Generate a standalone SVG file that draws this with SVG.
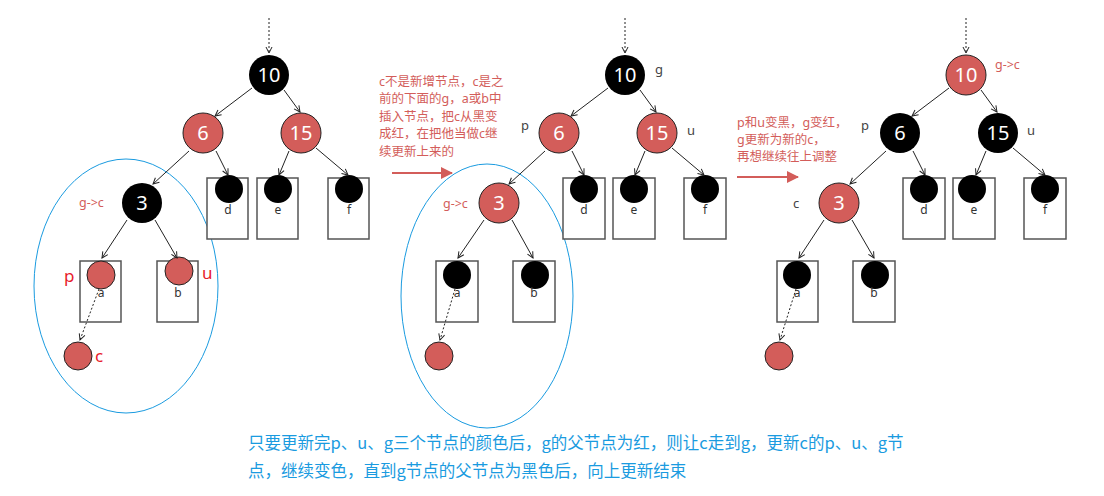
<svg xmlns="http://www.w3.org/2000/svg" width="1104" height="496" viewBox="0 0 1104 496">
<style>
.r{fill:#d35d5a;stroke:#222;stroke-width:1}
.k{fill:#000}
.n{font-family:"Noto Sans","DejaVu Sans",sans-serif;font-size:20px;fill:#fff;text-anchor:middle}
.bx{fill:#fff;stroke:#555;stroke-width:1.5}
.lt{font-family:"Noto Sans","DejaVu Sans",sans-serif;font-size:12px;fill:#333;text-anchor:middle}
.e{stroke:#222;stroke-width:1;fill:none;marker-end:url(#a)}
.d{stroke:#222;stroke-width:1;fill:none;stroke-dasharray:2 2;marker-end:url(#a)}
.cn{font-family:"Noto Sans","Noto Sans CJK SC",sans-serif;font-size:12.5px;fill:#d35d5a}
.el{fill:none;stroke:#1a9be0;stroke-width:1}
.sm{font-family:"Noto Sans",sans-serif;font-size:13px;fill:#444}
</style>
<defs>
<marker id="a" markerWidth="8" markerHeight="8" refX="7" refY="4" orient="auto" markerUnits="userSpaceOnUse"><path d="M1,1 L7,4 L1,7" fill="none" stroke="#222" stroke-width="1"/></marker>
<marker id="ra" markerWidth="12" markerHeight="12" refX="11" refY="6" orient="auto" markerUnits="userSpaceOnUse"><path d="M0,0 L12,6 L0,12Z" fill="#d35d5a"/></marker>
</defs>
<g id="panel1">
<ellipse class="el" cx="126" cy="286" rx="92" ry="127"/>
<g id="p1-10"><circle class="k" cx="269" cy="75" r="20"/><text class="n" x="269" y="82">10</text></g>
<g id="p1-6"><circle class="r" cx="203" cy="133" r="20"/><text class="n" x="203" y="140">6</text></g>
<g id="p1-15"><circle class="r" cx="301" cy="133" r="20"/><text class="n" x="301" y="140">15</text></g>
<g id="p1-3"><circle class="k" cx="142" cy="203" r="20"/><text class="n" x="142" y="210">3</text></g>
<g id="p1-d"><rect class="bx" x="207" y="178" width="41" height="61"/><circle class="k" cx="229" cy="189" r="14"/><text class="lt" x="228" y="214">d</text></g>
<g id="p1-e"><rect class="bx" x="257" y="178" width="41" height="61"/><circle class="k" cx="278" cy="189" r="14"/><text class="lt" x="278" y="214">e</text></g>
<g id="p1-f"><rect class="bx" x="328" y="178" width="41" height="61"/><circle class="k" cx="349" cy="189" r="14"/><text class="lt" x="349" y="214">f</text></g>
<g id="p1-a"><rect class="bx" x="80" y="261" width="41" height="61"/><circle class="r" cx="101" cy="275" r="14"/><text class="lt" x="101" y="297">a</text></g>
<g id="p1-b"><rect class="bx" x="157" y="261" width="41" height="61"/><circle class="r" cx="179" cy="271" r="14"/><text class="lt" x="178" y="297">b</text></g>
<g id="p1-c"><circle class="r" cx="78" cy="356" r="14"/></g>
<text class="cn" x="79" y="207" font-size="11">g-&gt;c</text>
<text x="64" y="282" font-family="Noto Sans,sans-serif" font-size="17" fill="#e8202a">p</text>
<text x="202" y="279" font-family="Noto Sans,sans-serif" font-size="17" fill="#e8202a">u</text>
<text x="95" y="362" font-family="Noto Sans,sans-serif" font-size="17" fill="#e8202a">c</text>
</g>
<g id="note1" class="cn">
<text x="379" y="86">c不是新增节点，c是之</text>
<text x="379" y="103">前的下面的g，a或b中</text>
<text x="379" y="121">插入节点，把c从黑变</text>
<text x="379" y="138">成红，在把他当做c继</text>
<text x="379" y="156">续更新上来的</text>
</g>
<g id="panel2">
<ellipse class="el" cx="487" cy="296" rx="86" ry="132"/>
<g id="p2-10"><circle class="k" cx="625" cy="75" r="20"/><text class="n" x="625" y="82">10</text></g>
<g id="p2-6"><circle class="r" cx="559" cy="133" r="20"/><text class="n" x="559" y="140">6</text></g>
<g id="p2-15"><circle class="r" cx="657" cy="133" r="20"/><text class="n" x="657" y="140">15</text></g>
<g id="p2-3"><circle class="r" cx="499" cy="203" r="20"/><text class="n" x="499" y="210">3</text></g>
<g id="p2-d"><rect class="bx" x="563" y="178" width="42" height="61"/><circle class="k" cx="584" cy="189" r="14"/><text class="lt" x="584" y="214">d</text></g>
<g id="p2-e"><rect class="bx" x="613" y="178" width="42" height="61"/><circle class="k" cx="634" cy="189" r="14"/><text class="lt" x="634" y="214">e</text></g>
<g id="p2-f"><rect class="bx" x="684" y="178" width="42" height="61"/><circle class="k" cx="705" cy="189" r="14"/><text class="lt" x="705" y="214">f</text></g>
<g id="p2-a"><rect class="bx" x="436" y="261" width="42" height="61"/><circle class="k" cx="457" cy="275" r="14"/><text class="lt" x="457" y="297">a</text></g>
<g id="p2-b"><rect class="bx" x="513" y="261" width="42" height="61"/><circle class="k" cx="535" cy="275" r="14"/><text class="lt" x="534" y="297">b</text></g>
<g id="p2-c"><circle class="r" cx="439" cy="356" r="14"/></g>
<text class="cn" x="443" y="208" font-size="11">g-&gt;c</text>
<text class="sm" x="655" y="74">g</text>
<text class="sm" x="521" y="130">p</text>
<text class="sm" x="687" y="135">u</text>
</g>
<g id="note2" class="cn">
<text x="737" y="127">p和u变黑，g变红，</text>
<text x="737" y="144">g更新为新的c，</text>
<text x="737" y="161">再想继续往上调整</text>
</g>
<g id="panel3">
<g id="p3-10"><circle class="r" cx="966" cy="75" r="20"/><text class="n" x="966" y="82">10</text></g>
<g id="p3-6"><circle class="k" cx="900" cy="133" r="20"/><text class="n" x="900" y="140">6</text></g>
<g id="p3-15"><circle class="k" cx="998" cy="133" r="20"/><text class="n" x="998" y="140">15</text></g>
<g id="p3-3"><circle class="r" cx="839" cy="203" r="20"/><text class="n" x="839" y="210">3</text></g>
<g id="p3-d"><rect class="bx" x="903" y="178" width="42" height="61"/><circle class="k" cx="924" cy="189" r="14"/><text class="lt" x="924" y="214">d</text></g>
<g id="p3-e"><rect class="bx" x="953" y="178" width="42" height="61"/><circle class="k" cx="972" cy="189" r="14"/><text class="lt" x="974" y="214">e</text></g>
<g id="p3-f"><rect class="bx" x="1024" y="178" width="42" height="61"/><circle class="k" cx="1045" cy="189" r="14"/><text class="lt" x="1045" y="214">f</text></g>
<g id="p3-a"><rect class="bx" x="777" y="261" width="41" height="61"/><circle class="k" cx="797" cy="275" r="14"/><text class="lt" x="797" y="297">a</text></g>
<g id="p3-b"><rect class="bx" x="853" y="261" width="42" height="61"/><circle class="k" cx="875" cy="275" r="14"/><text class="lt" x="874" y="297">b</text></g>
<g id="p3-c"><circle class="r" cx="779" cy="356" r="14"/></g>
<text class="cn" x="995" y="69" font-size="11">g-&gt;c</text>
<text class="sm" x="861" y="130">p</text>
<text class="sm" x="1027" y="135">u</text>
<text class="sm" x="793" y="208">c</text>
</g>
<g id="connectors">
<path class="d" d="M269,18 V53"/><path class="e" d="M252,88 L215,116"/><path class="e" d="M284,90 L300,112"/>
<path class="e" d="M189,151 L153,184"/><path class="e" d="M216,151 L228,175"/><path class="e" d="M289,151 L279,175"/><path class="e" d="M316,148 L348,175"/>
<path class="e" d="M127,220 L102,258"/><path class="e" d="M155,220 L177,258"/><path class="d" d="M99,289 L80,340"/>
<path class="d" d="M625,18 V53"/><path class="e" d="M608,88 L571,116"/><path class="e" d="M640,90 L656,112"/>
<path class="e" d="M545,151 L509,184"/><path class="e" d="M572,151 L584,175"/><path class="e" d="M645,151 L635,175"/><path class="e" d="M672,148 L704,175"/>
<path class="e" d="M484,220 L458,258"/><path class="e" d="M512,220 L533,258"/><path class="d" d="M455,289 L440,340"/>
<path class="d" d="M966,18 V53"/><path class="e" d="M949,88 L912,116"/><path class="e" d="M981,90 L997,112"/>
<path class="e" d="M886,151 L850,184"/><path class="e" d="M913,151 L925,175"/><path class="e" d="M986,151 L976,175"/><path class="e" d="M1013,148 L1045,175"/>
<path class="e" d="M824,220 L799,258"/><path class="e" d="M852,220 L874,258"/><path class="d" d="M796,289 L780,340"/>
<path d="M392,173 H452" stroke="#d35d5a" stroke-width="2" marker-end="url(#ra)"/>
<path d="M737,177 H798" stroke="#d35d5a" stroke-width="2" marker-end="url(#ra)"/>
</g>
<g id="bottom" font-family="Noto Sans CJK SC,Noto Sans,sans-serif" font-size="16.5" fill="#1a9be0">
<text x="248" y="449">只要更新完p、u、g三个节点的颜色后，g的父节点为红，则让c走到g，更新c的p、u、g节</text>
<text x="248" y="477">点，继续变色，直到g节点的父节点为黑色后，向上更新结束</text>
</g>
</svg>
